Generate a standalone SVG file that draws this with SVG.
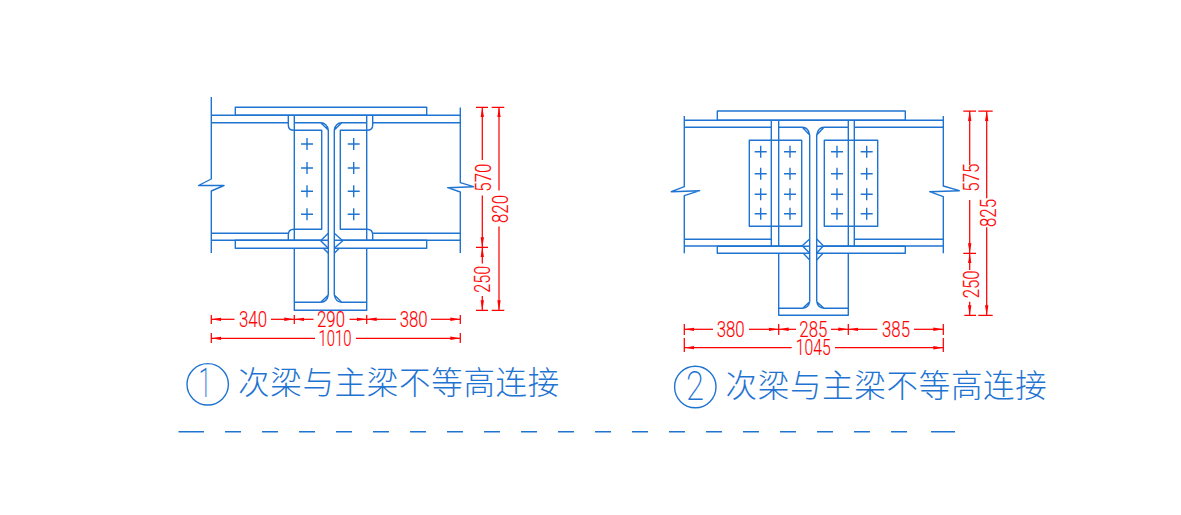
<svg xmlns="http://www.w3.org/2000/svg" width="1181" height="515" viewBox="0 0 1181 515">
<style>
.s{fill:none;stroke:#1f74d2;stroke-width:1.4;stroke-linejoin:round}
.d{fill:none;stroke:#f00;stroke-width:1.25}
.a{marker-start:url(#ar);}
.b{marker-end:url(#ar);}
.t{font-family:Roboto,"Liberation Sans",sans-serif;font-weight:300;font-size:21.5px;fill:#f00;stroke:#f00;stroke-width:.15;text-anchor:middle}
.c{font-family:"Noto Sans CJK SC","Noto Sans CJK JP",sans-serif;font-weight:200;font-size:31.5px;fill:#1f74d2;letter-spacing:.7px}
.n{font-family:Roboto,"Liberation Sans",sans-serif;font-weight:200;font-size:40px;fill:#1f74d2;text-anchor:middle}
</style>
<defs>
<marker id="ar" markerUnits="userSpaceOnUse" markerWidth="11" markerHeight="5" refX="10" refY="2.5" orient="auto-start-reverse"><path d="M0,.8 L10,2.5 L0,4.2 z" fill="#f00"/></marker>
</defs>
<rect width="1181" height="515" fill="#fff"/>

<g id="joint-1" class="s">
<path d="M211.3,97V179L198.5,185.5H224L211.3,191V253"/>
<path d="M460.3,107.5V182.7L473.5,186.7L447.7,187.7L460.3,192V253"/>
<rect x="235.3" y="107.3" width="191.4" height="8"/>
<path d="M328.3,240.3H235.3V248.3H328.3M334.3,240.3H426.7V248.3H334.3"/>
<path d="M211,115.3H460M211,122.7H288.3M372.7,122.7H460"/>
<path d="M294.3,122.7H320.7Q327,123 328.3,130M320.7,122.7L328.3,130M341.7,122.7H366.7M341.7,122.7Q335.5,123 334.3,130M341.7,122.7L334.3,130"/>
<path d="M288.3,115.3V125Q288.3,130.3 294,130.3H321.7V229.3H294Q288.3,229.3 288.3,235V240.3"/>
<path d="M372.7,115.3V125Q372.7,130.3 367,130.3H340.3V229.3H367Q372.7,229.3 372.7,235V240.3"/>
<path d="M294.3,115.3V240.3M366.7,115.3V240.3M294.3,248.3V310.3H366.7V248.3M295,302.3H320.7Q327,302 328.3,295M320.7,302.3L328.3,295M366.7,302.3H341.7Q335.5,302 334.3,295M341.7,302.3L334.3,295"/>
<path d="M328.3,130V295M334.3,130V295"/>
<path d="M211,233.3H288.3M372.7,233.3H460M211,240.3H320.7M341.7,240.3H460"/>
<path d="M328.3,233.3L320.7,240.7L328.3,248.3M334.3,233.3L342.7,240.7L334.3,248.3M323.3,248.3L328.3,253.3M339.3,248.3L334.3,253.3"/>
<path d="M301,144H313M307,138V150M301,168H313M307,162V174M301,191.3H313M307,185.3V197.3M301,214.3H313M307,208.3V220.3"/>
<path d="M347.7,144H359.7M353.7,138V150M347.7,168H359.7M353.7,162V174M347.7,191.3H359.7M353.7,185.3V197.3M347.7,214.3H359.7M353.7,208.3V220.3"/>
</g>

<g id="joint-2" class="s">
<path d="M684.3,116V186.7L671.3,191.7L699.7,190.7L684.3,195.7V253.3"/>
<path d="M943.3,116V186L959.3,190.7L929.7,191.7L943.3,196.7V253.3"/>
<rect x="717.3" y="111" width="188" height="9.3"/>
<path d="M809.7,246.3H717.3V253.3H809.7M816.7,246.3H905.3V253.3H816.7"/>
<path d="M684,120.3H943.3M684,127.3H771.3M854.3,127.3H943.3"/>
<path d="M778.7,127.3H802.3Q808.5,127.5 809.7,135M802.3,127.3L809.7,135M848.3,127.3H824Q818,127.5 816.7,135M824,127.3L816.7,135"/>
<path d="M771.3,120.3V246M854.3,120.3V246"/>
<path d="M778.7,120.3V246M848.3,120.3V246M778.7,253.3V315.3H848.3V253.3M778.7,308.3H802.7Q808.5,308 809.7,301.7M802.7,308.3L809.7,301.7M848.3,308.3H824Q818,308 816.7,301.7M824,308.3L816.7,301.7"/>
<path d="M809.7,135V301.7M816.7,135V301.7"/>
<path d="M684,239.3H771.3M854.3,239.3H943.3M684,246H802.3M823.3,246H943.3"/>
<path d="M809.7,239L802.3,245.7L809.7,253.3M816.7,239L823.3,245.7L816.7,253.3M803.3,253.3L809.7,260M823,253.3L816.7,260"/>
<rect x="749.3" y="140.3" width="52.4" height="86"/>
<rect x="824.3" y="140.3" width="53.4" height="86"/>
<path d="M754.7,151.7H766.7M760.7,145.7V157.7M754.7,173.7H766.7M760.7,167.7V179.7M754.7,194.3H766.7M760.7,188.3V200.3M754.7,213.7H766.7M760.7,207.7V219.7"/>
<path d="M784,151.7H796M790,145.7V157.7M784,173.7H796M790,167.7V179.7M784,194.3H796M790,188.3V200.3M784,213.7H796M790,207.7V219.7"/>
<path d="M831,151.7H843M837,145.7V157.7M831,173.7H843M837,167.7V179.7M831,194.3H843M837,188.3V200.3M831,213.7H843M837,207.7V219.7"/>
<path d="M860.7,151.7H872.7M866.7,145.7V157.7M860.7,173.7H872.7M866.7,167.7V179.7M860.7,194.3H872.7M866.7,188.3V200.3M860.7,213.7H872.7M866.7,207.7V219.7"/>
</g>

<g id="connectors">
<path class="d" d="M211.3,315V324M294.3,315V324M366.7,315V324M460.3,315V324M211.3,333V343M460.3,333V343M476,107.3H488M491.7,107.3H504.3M476,247.3H488M476,310.3H488M491.7,310.3H504.3"/>
<path class="d a" d="M211.3,319.3H234.5"/><path class="d b" d="M271,319.3H294.3"/>
<path class="d a" d="M294.3,319.3H313.5"/><path class="d b" d="M349.5,319.3H366.7"/>
<path class="d a" d="M366.7,319.3H396"/><path class="d b" d="M431,319.3H460.3"/>
<path class="d a" d="M211.3,338.3H315"/><path class="d b" d="M356,338.3H460.3"/>
<path class="d a" d="M482.3,107.3V160"/><path class="d b" d="M482.3,195.5V247.3"/>
<path class="d a" d="M482.3,247.3V263.5"/><path class="d b" d="M482.3,296V310.3"/>
<path class="d a" d="M499,107.3V190.5"/><path class="d b" d="M499,226.5V310.3"/>

<path class="d" d="M684.3,324V335M778.7,324V335M848.3,324V335M943.3,324V335M684.3,338V352M943.3,338V352M963.3,111H976M978.3,111H992.7M963.3,253.3H976M964.3,315.3H976M978.3,315.3H992.7"/>
<path class="d a" d="M684.3,329.3H713"/><path class="d b" d="M749,329.3H778.7"/>
<path class="d a" d="M778.7,329.3H796"/><path class="d b" d="M831,329.3H848.3"/>
<path class="d a" d="M848.3,329.3H877.3"/><path class="d b" d="M914,329.3H943.3"/>
<path class="d a" d="M684.3,347.7H791.7"/><path class="d b" d="M835,347.7H943.3"/>
<path class="d a" d="M969.7,111V165"/><path class="d b" d="M969.7,200V253.3"/>
<path class="d a" d="M969.7,253.3V270"/><path class="d b" d="M969.7,301.7V315.3"/>
<path class="d a" d="M986.7,111V198.3"/><path class="d b" d="M986.7,227.3V315.3"/>
</g>

<g id="dimension-labels">
<text class="t" x="253" y="327.2" textLength="28" lengthAdjust="spacingAndGlyphs">340</text>
<text class="t" x="331" y="327.2" textLength="28" lengthAdjust="spacingAndGlyphs">290</text>
<text class="t" x="413.7" y="327.2" textLength="28" lengthAdjust="spacingAndGlyphs">380</text>
<text class="t" x="335" y="346.2" textLength="33" lengthAdjust="spacingAndGlyphs">1010</text>
<text class="t" transform="translate(490.8,177.7) rotate(-90)" textLength="28" lengthAdjust="spacingAndGlyphs">570</text>
<text class="t" transform="translate(490.3,279.3) rotate(-90)" textLength="27" lengthAdjust="spacingAndGlyphs">250</text>
<text class="t" transform="translate(507.8,209) rotate(-90)" textLength="28" lengthAdjust="spacingAndGlyphs">820</text>
<text class="t" x="730.7" y="337.2" textLength="28" lengthAdjust="spacingAndGlyphs">380</text>
<text class="t" x="813.3" y="337.2" textLength="28" lengthAdjust="spacingAndGlyphs">285</text>
<text class="t" x="896" y="337.2" textLength="28" lengthAdjust="spacingAndGlyphs">385</text>
<text class="t" x="813.3" y="355.2" textLength="35" lengthAdjust="spacingAndGlyphs">1045</text>
<text class="t" transform="translate(979.3,177.7) rotate(-90)" textLength="28" lengthAdjust="spacingAndGlyphs">575</text>
<text class="t" transform="translate(979.3,284.3) rotate(-90)" textLength="28" lengthAdjust="spacingAndGlyphs">250</text>
<text class="t" transform="translate(995.8,213) rotate(-90)" textLength="28" lengthAdjust="spacingAndGlyphs">825</text>
</g>

<g id="caption-1">
<circle class="s" cx="207.7" cy="384.3" r="20.7"/>
<text class="n" x="205" y="397" textLength="13" lengthAdjust="spacingAndGlyphs">1</text>
<text class="c" x="238" y="393.5">次梁与主梁不等高连接</text>
</g>
<g id="caption-2">
<circle class="s" cx="695.3" cy="387" r="20.7"/>
<text class="n" x="695" y="400" textLength="18" lengthAdjust="spacingAndGlyphs">2</text>
<text class="c" x="725.5" y="396.5">次梁与主梁不等高连接</text>
</g>
<g id="section-rule" class="s">
<path d="M178.5,431.7H204M931,431.7H955"/>
<path d="M225,431.7H908" stroke-dasharray="16 21"/>
</g>
</svg>
